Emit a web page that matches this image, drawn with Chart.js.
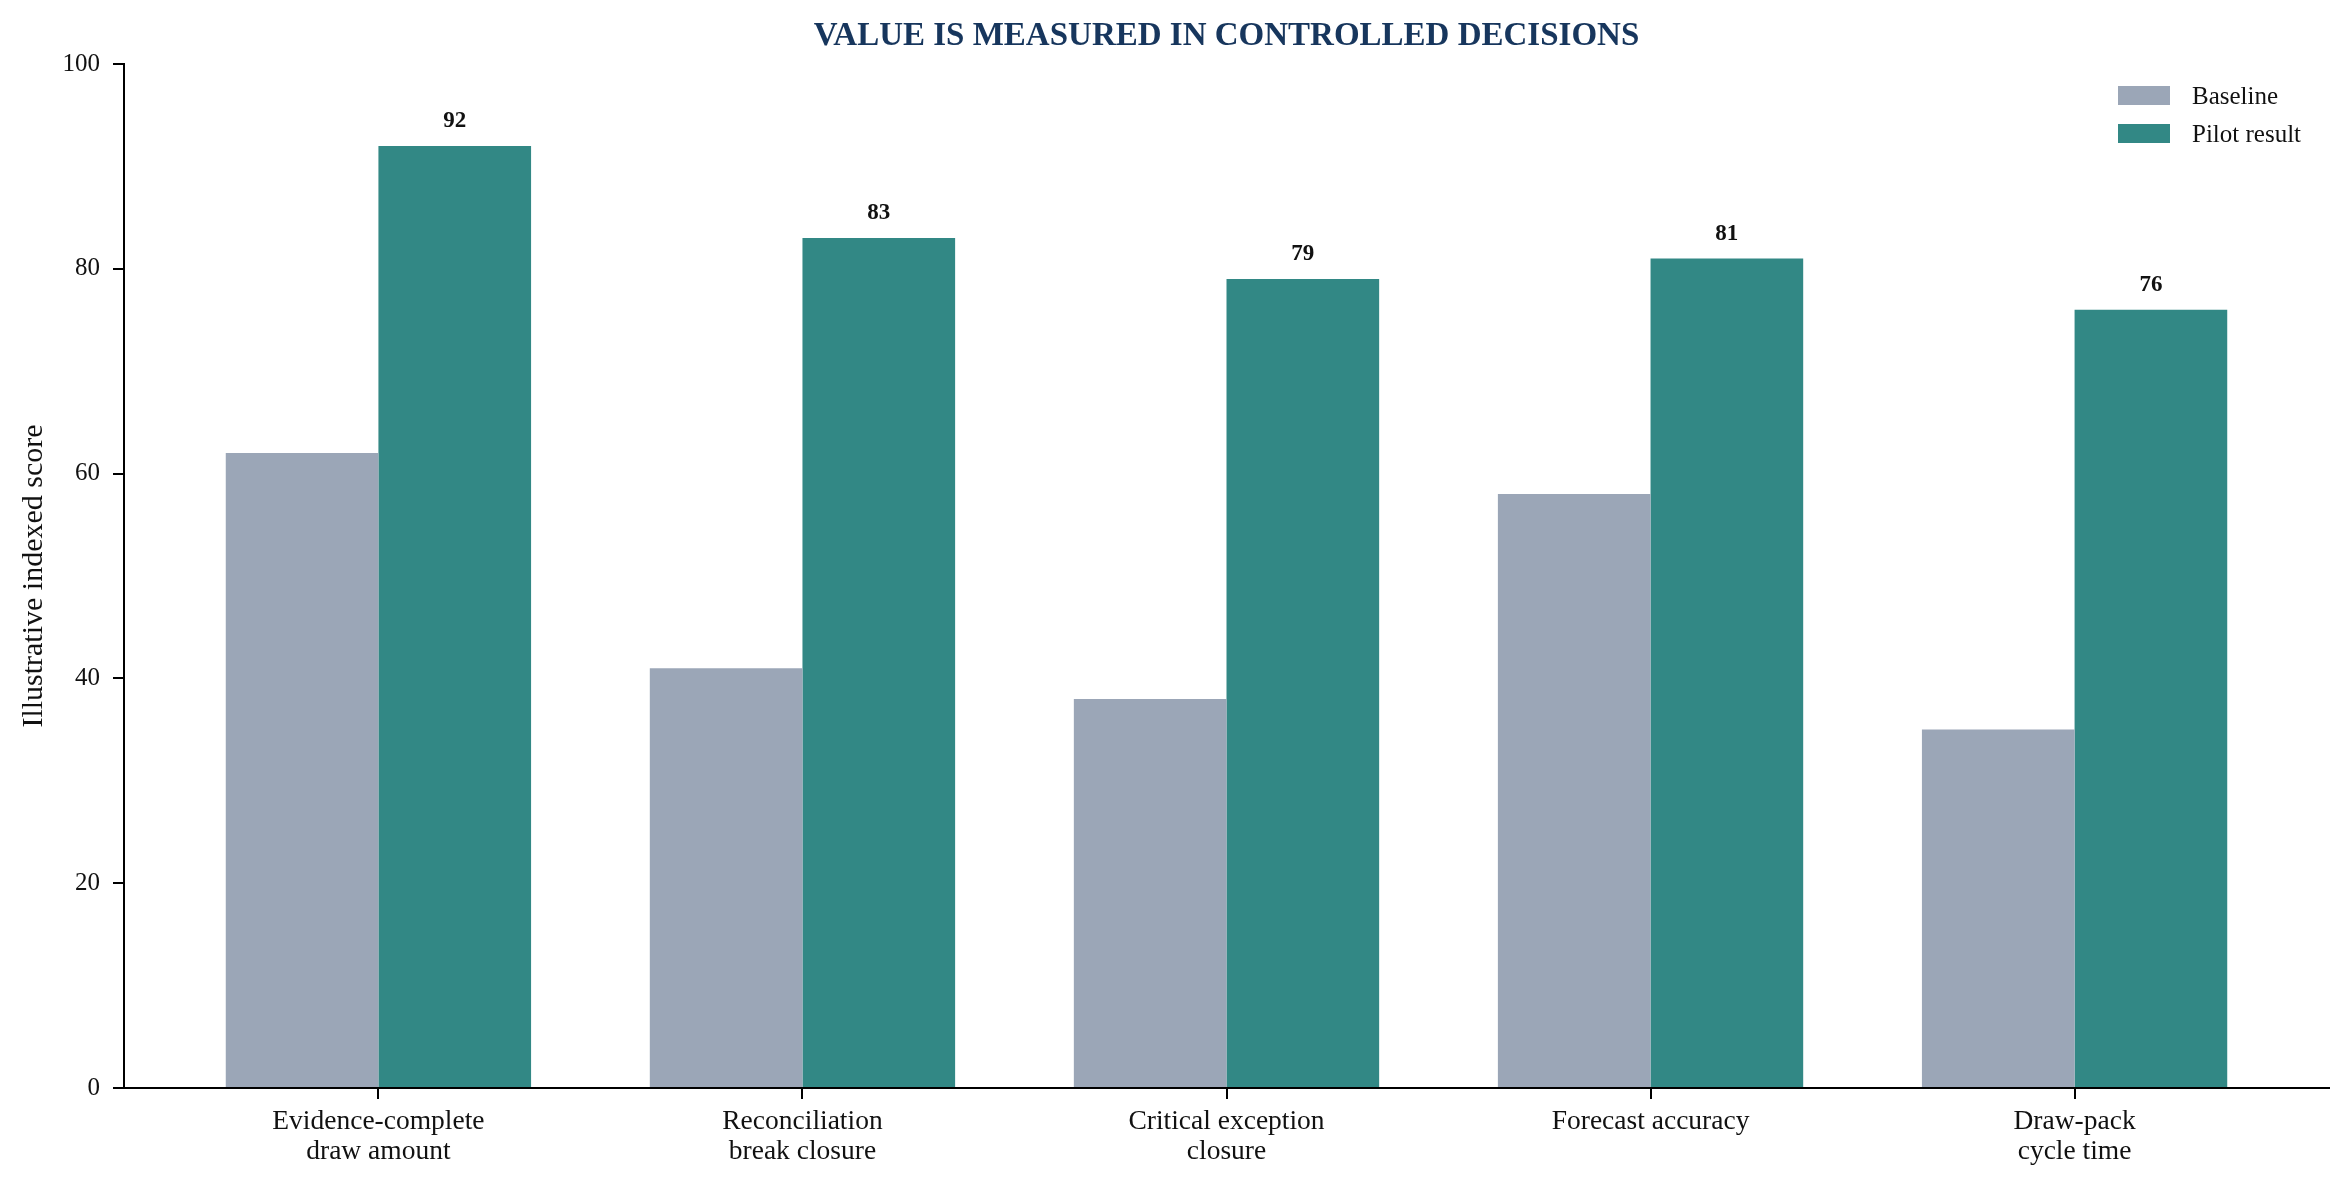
<!DOCTYPE html>
<html>
<head>
<meta charset="utf-8">
<script src="https://cdn.jsdelivr.net/npm/chart.js@4.4.1/dist/chart.umd.min.js"></script>
<style>
  html, body { margin: 0; padding: 0; background: #fff; }
  canvas { display: block; }
</style>
</head>
<body>
<canvas id="grafico" width="2349" height="1188" style="width:2349px;height:1188px"></canvas>
<script>
const categorias = [
  ['Evidence-complete', 'draw amount'],
  ['Reconciliation', 'break closure'],
  ['Critical exception', 'closure'],
  ['Forecast accuracy'],
  ['Draw-pack', 'cycle time']
];
const baseline = [62, 41, 38, 58, 35];
const piloto = [92, 83, 79, 81, 76];
const yTicks = [0, 20, 40, 60, 80, 100];

const SERIF = '"Liberation Serif", "Times New Roman", serif';
const COR_BASE = '#9BA6B7';
const COR_PILOTO = '#328885';

// titulo centrado sobre a area do grafico
const tituloPlugin = {
  id: 'tituloPlugin',
  afterDraw(chart) {
    const { ctx, chartArea } = chart;
    ctx.save();
    ctx.font = 'bold 33px ' + SERIF;
    ctx.fillStyle = '#17365D';
    ctx.textAlign = 'center';
    ctx.textBaseline = 'alphabetic';
    ctx.fillText('VALUE IS MEASURED IN CONTROLLED DECISIONS', (chartArea.left + chartArea.right) / 2, 45);
    ctx.restore();
  }
};

// valores acima das barras do piloto
const valoresPlugin = {
  id: 'valoresPlugin',
  afterDatasetsDraw(chart) {
    const { ctx } = chart;
    const meta = chart.getDatasetMeta(1);
    ctx.save();
    ctx.font = 'bold 23px ' + SERIF;
    ctx.fillStyle = '#111';
    ctx.textAlign = 'center';
    ctx.textBaseline = 'alphabetic';
    meta.data.forEach((bar, i) => {
      ctx.fillText(String(piloto[i]), bar.x, bar.y - 19);
    });
    ctx.restore();
  }
};

// legenda no canto superior direito, empilhada
const legendaPlugin = {
  id: 'legendaPlugin',
  afterDraw(chart) {
    const { ctx, chartArea } = chart;
    const x = chartArea.right - 211;
    ctx.save();
    ctx.font = '25px ' + SERIF;
    ctx.textBaseline = 'middle';
    ctx.textAlign = 'left';
    chart.data.datasets.forEach((ds, i) => {
      const y = 86 + i * 38;
      ctx.fillStyle = ds.backgroundColor;
      ctx.fillRect(x, y, 52, 19);
      ctx.fillStyle = '#111';
      ctx.fillText(ds.label, x + 74, y + 11);
    });
    ctx.restore();
  }
};

Chart.defaults.font.family = SERIF;
Chart.defaults.color = '#111';

new Chart(document.getElementById('grafico'), {
  type: 'bar',
  data: {
    datasets: [
      {
        label: 'Baseline',
        data: baseline.map((v, i) => ({ x: i, y: v })),
        backgroundColor: COR_BASE
      },
      {
        label: 'Pilot result',
        data: piloto.map((v, i) => ({ x: i, y: v })),
        backgroundColor: COR_PILOTO
      }
    ]
  },
  options: {
    responsive: false,
    animation: false,
    devicePixelRatio: 1,
    categoryPercentage: 0.72,
    barPercentage: 1.0,
    layout: { padding: { left: 0, right: 20, top: 64, bottom: 0 } },
    plugins: {
      legend: { display: false },
      title: { display: false },
      tooltip: { enabled: false }
    },
    scales: {
      x: {
        type: 'linear',
        min: -0.6,
        max: 4.6,
        offset: false,
        z: 1,
        afterFit: scale => { scale.height = 100; },
        border: { display: true, color: '#000', width: 2 },
        grid: { offset: false, drawOnChartArea: false, drawTicks: true, tickLength: 11, color: '#000', lineWidth: 2 },
        ticks: {
          stepSize: 1,
          includeBounds: false,
          autoSkip: false,
          maxRotation: 0,
          padding: 8,
          font: { size: 27.5, lineHeight: 1.09 },
          color: '#111',
          callback: v => categorias[v]
        }
      },
      y: {
        min: 0,
        max: 100,
        z: 1,
        afterFit: scale => { scale.width = 124; },
        afterBuildTicks: scale => { scale.ticks = yTicks.map(v => ({ value: v })); },
        border: { display: true, color: '#000', width: 2 },
        grid: { drawOnChartArea: false, drawTicks: true, tickLength: 11, color: '#000', lineWidth: 2 },
        ticks: { padding: 13, font: { size: 25 }, color: '#111' },
        title: {
          display: true,
          text: 'Illustrative indexed score',
          font: { size: 30 },
          color: '#111',
          padding: { top: 16, bottom: 0 }
        }
      }
    }
  },
  plugins: [tituloPlugin, valoresPlugin, legendaPlugin]
});
</script>
</body>
</html>
